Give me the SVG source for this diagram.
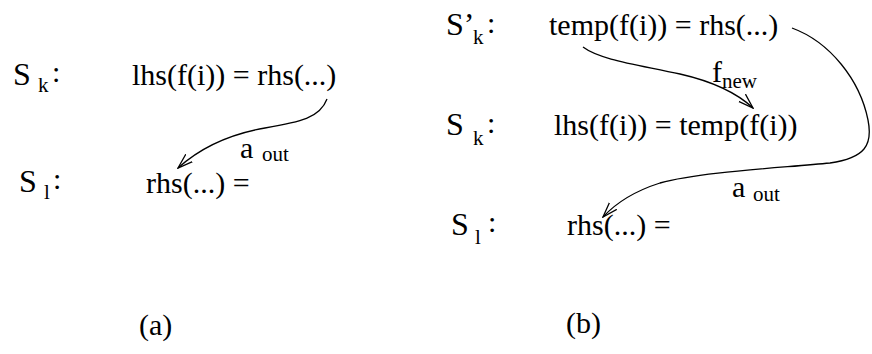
<svg xmlns="http://www.w3.org/2000/svg" width="872" height="354" viewBox="0 0 872 354" font-family="'Liberation Serif', 'Times New Roman', serif">
<style>
text{fill:#000}
.m{font-size:30px}
.b{font-size:32px}
.s{font-size:21px}
.c{fill:none;stroke:#000;stroke-width:1.3}
</style>
<defs>
<marker id="ah" markerWidth="16" markerHeight="12" refX="15" refY="6" orient="auto" markerUnits="userSpaceOnUse">
<path d="M0,1 L15,6 L0,11" fill="none" stroke="#000" stroke-width="1.3"/>
</marker>
</defs>
<rect width="872" height="354" fill="#fff"/>
<g id="left-sk"><text class="b" x="13" y="85">S</text><text class="s" x="38" y="92">k</text><text class="m" x="52" y="82">:</text></g>
<g id="left-lhs"><text class="m" x="132" y="85">lhs(f(i)) = rhs(...)</text></g>
<g id="left-sl"><text class="b" x="19" y="192">S</text><text class="s" x="44" y="199">l</text><text class="m" x="53" y="189">:</text></g>
<g id="left-rhs"><text class="m" x="146" y="193">rhs(...) =</text></g>
<g id="label-a"><text class="m" x="139" y="335">(a)</text></g>
<g id="right-skp"><text class="b" x="446" y="35">S’</text><text class="s" x="473" y="44">k</text><text class="m" x="487" y="33">:</text></g>
<g id="right-temp"><text class="m" x="549" y="35">temp(f(i)) = rhs(...)</text></g>
<g id="right-sk"><text class="b" x="446" y="135">S</text><text class="s" x="473" y="145">k</text><text class="m" x="487" y="133">:</text></g>
<g id="right-lhs"><text class="m" x="554" y="135">lhs(f(i)) = temp(f(i))</text></g>
<g id="right-sl"><text class="b" x="451" y="235">S</text><text class="s" x="475" y="244">l</text><text class="m" x="488" y="232">:</text></g>
<g id="right-rhs"><text class="m" x="567" y="235">rhs(...) =</text></g>
<g id="label-b"><text class="m" x="566" y="333">(b)</text></g>
<g id="connectors">
<path class="c" marker-end="url(#ah)" d="M327,99 C320,118 300,122 265,128 C225,135 198,150 178,168"/>
<text class="m" x="240" y="158">a</text><text class="s" x="262" y="161">out</text>
<path class="c" marker-end="url(#ah)" d="M583,47 C600,60 640,65 680,74 C715,82 738,94 753,108"/>
<text class="m" x="712" y="82">f</text><text class="s" x="722" y="88">new</text>
<path class="c" marker-end="url(#ah)" d="M792,28 C830,42 860,80 868,120 C873,145 865,158 830,163 C780,168 700,172 660,183 C635,191 615,204 603,217"/>
<text class="m" x="732" y="197">a</text><text class="s" x="753" y="201">out</text>
</g>
</svg>
